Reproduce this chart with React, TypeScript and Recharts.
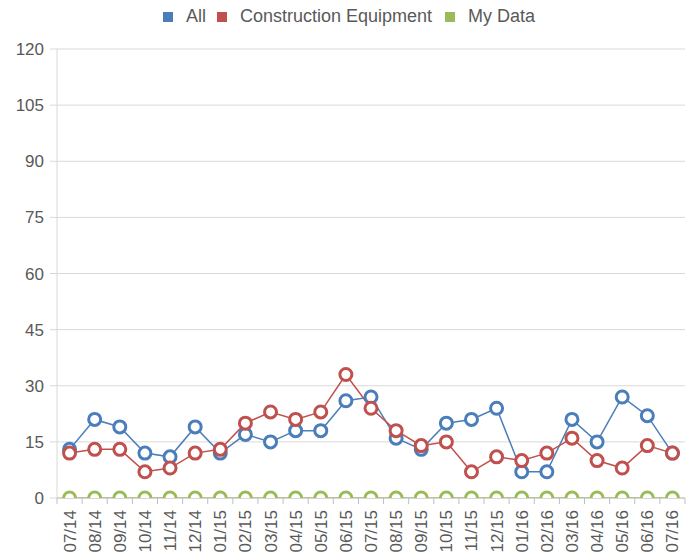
import React from 'react';
import { LineChart, Line, XAxis, YAxis, CartesianGrid, Legend } from 'recharts';

const months = [
  '07/14', '08/14', '09/14', '10/14', '11/14', '12/14', '01/15', '02/15', '03/15',
  '04/15', '05/15', '06/15', '07/15', '08/15', '09/15', '10/15', '11/15', '12/15',
  '01/16', '02/16', '03/16', '04/16', '05/16', '06/16', '07/16',
];
const allValues = [13, 21, 19, 12, 11, 19, 12, 17, 15, 18, 18, 26, 27, 16, 13, 20, 21, 24, 7, 7, 21, 15, 27, 22, 12];
const constructionValues = [12, 13, 13, 7, 8, 12, 13, 20, 23, 21, 23, 33, 24, 18, 14, 15, 7, 11, 10, 12, 16, 10, 8, 14, 12];
const myDataValues = [0, 0, 0, 0, 0, 0, 0, 0, 0, 0, 0, 0, 0, 0, 0, 0, 0, 0, 0, 0, 0, 0, 0, 0, 0];
const yTicks = [0, 15, 30, 45, 60, 75, 90, 105, 120];

const seriesInfo = [
  { key: 'all', name: 'All', color: '#4a7ebb' },
  { key: 'construction', name: 'Construction Equipment', color: '#c0504d' },
  { key: 'mine', name: 'My Data', color: '#9bbb59' },
];

const data = months.map((m, i) => ({
  month: m,
  all: allValues[i],
  construction: constructionValues[i],
  mine: myDataValues[i],
}));

const W = 693;
const H = 560;
const LEFT = 57;
const RIGHT = 8;
const band = (W - LEFT - RIGHT) / months.length;
const FONT = '"Liberation Sans", Arial, sans-serif';
const TEXT = '#595959';

function MonthTick(props: any) {
  const { x, y, payload, index } = props;
  const last = index === months.length - 1;
  return (
    <g>
      <line x1={x - band / 2} x2={x - band / 2} y1={y} y2={y + 6} stroke="#bfbfbf" />
      {last && <line x1={x + band / 2} x2={x + band / 2} y1={y} y2={y + 6} stroke="#bfbfbf" />}
      <text
        x={0}
        y={0}
        transform={`translate(${x + 6},${y + 12}) rotate(-90)`}
        textAnchor="end"
        fill={TEXT}
        fontSize={17}
        fontFamily={FONT}
      >
        {payload.value}
      </text>
    </g>
  );
}

const legendPos = [163, 217, 445];

function ChartLegend() {
  return (
    <div style={{ position: 'relative', width: W, height: 30, fontFamily: FONT, fontSize: 18, color: TEXT }}>
      {seriesInfo.map((s, i) => (
        <div key={s.key} style={{ position: 'absolute', left: legendPos[i], top: 6, display: 'flex', alignItems: 'center', whiteSpace: 'nowrap' }}>
          <span style={{ width: 10, height: 10, background: s.color, display: 'inline-block', marginRight: 13 }} />
          <span>{s.name}</span>
        </div>
      ))}
    </div>
  );
}

export default function App() {
  return (
    <div style={{ position: 'absolute', left: 0, top: 0, width: W, height: H, background: '#fff' }}>
      <LineChart width={W} height={H} data={data} margin={{ top: 19, right: RIGHT, left: 0, bottom: 0 }}>
        <Legend verticalAlign="top" content={() => <ChartLegend />} wrapperStyle={{ left: 0, top: 0, width: W }} />
        <CartesianGrid vertical={false} stroke="#d9d9d9" />
        <XAxis
          dataKey="month"
          interval={0}
          height={62}
          padding={{ left: band / 2, right: band / 2 }}
          tickLine={false}
          tickSize={0}
          tickMargin={0}
          axisLine={{ stroke: '#bfbfbf' }}
          tick={<MonthTick />}
        />
        <YAxis
          width={LEFT}
          domain={[0, 120]}
          ticks={yTicks}
          allowDataOverflow
          interval={0}
          tickSize={7}
          tickMargin={6}
          tickLine={{ stroke: '#d9d9d9' }}
          axisLine={{ stroke: '#d9d9d9' }}
          tick={{ fill: TEXT, fontSize: 17, fontFamily: FONT }}
        />
        {seriesInfo.map((s) => (
          <Line
            key={s.key}
            dataKey={s.key}
            name={s.name}
            stroke={s.color}
            strokeWidth={1.5}
            dot={{ r: 6, fill: '#fff', stroke: s.color, strokeWidth: 3 }}
            isAnimationActive={false}
          />
        ))}
      </LineChart>
    </div>
  );
}
